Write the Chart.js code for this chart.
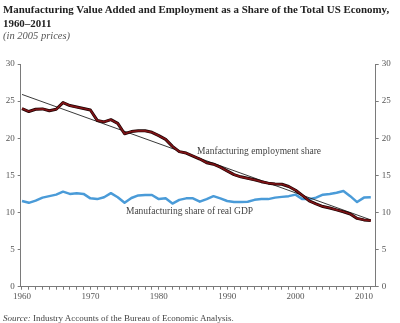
<!DOCTYPE html>
<html><head><meta charset="utf-8">
<script src="https://cdn.jsdelivr.net/npm/chart.js@4"></script>
<style>
html,body{margin:0;padding:0;background:#fff;}
#wrap{position:relative;width:400px;height:323px;overflow:hidden;font-family:"Liberation Serif","Times New Roman",serif;}
#title{position:absolute;left:3px;top:3px;font-weight:bold;font-size:10.9px;line-height:13.5px;color:#222;white-space:nowrap;}
#sub{position:absolute;left:3px;top:29.5px;font-style:italic;font-size:10.5px;line-height:12px;color:#555;white-space:nowrap;}
#src{position:absolute;left:3px;top:313px;font-size:9px;line-height:10px;color:#444;white-space:nowrap;}
canvas{position:absolute;left:0;top:0;}
</style></head>
<body><div id="wrap">
<canvas id="c" width="400" height="323"></canvas>
<div id="title">Manufacturing Value Added and Employment as a Share of the Total US Economy,<br>1960–2011</div>
<div id="sub">(in 2005 prices)</div>
<div id="src"><i>Source:</i> Industry Accounts of the Bureau of Economic Analysis.</div>
</div>
<script>
const years = [1960,1961,1962,1963,1964,1965,1966,1967,1968,1969,
  1970,1971,1972,1973,1974,1975,1976,1977,1978,1979,
  1980,1981,1982,1983,1984,1985,1986,1987,1988,1989,
  1990,1991,1992,1993,1994,1995,1996,1997,1998,1999,
  2000,2001,2002,2003,2004,2005,2006,2007,2008,2009,
  2010,2011];
const employmentShare = [24.0,23.6,23.9,23.95,23.7,23.9,24.8,24.4,24.2,24.0,
  23.8,22.4,22.2,22.5,22.0,20.6,20.9,21.0,21.0,20.8,
  20.35,19.85,18.9,18.2,18.0,17.6,17.2,16.7,16.5,16.1,
  15.6,15.1,14.8,14.6,14.4,14.15,13.95,13.85,13.8,13.5,
  13.0,12.3,11.55,11.15,10.8,10.6,10.35,10.1,9.8,9.2,
  9.0,8.9];
const gdpShare = [11.55,11.3,11.6,12.0,12.2,12.4,12.8,12.5,12.6,12.5,
  11.9,11.8,12.05,12.6,12.05,11.3,11.95,12.3,12.35,12.35,
  11.8,11.9,11.2,11.7,11.9,11.9,11.45,11.8,12.2,11.9,
  11.55,11.4,11.4,11.45,11.7,11.8,11.8,12.0,12.1,12.2,
  12.4,11.8,11.8,12.0,12.4,12.5,12.65,12.9,12.2,11.4,
  12.0,12.05];
const trendYears = [1960, 2011];
const trendValues = [25.9, 9.0];
const yTicks = [0,5,10,15,20,25,30];
const xLabelYears = [1960,1970,1980,1990,2000,2010];
const annotations = [
  {text:'Manfacturing employment share', year:1985.6, value:18.2},
  {text:'Manufacturing share of real GDP', year:1975.2, value:10.1}
];

const pts = (xs, ys) => xs.map((x,i)=>({x:x, y:ys[i]}));
const serif = '"Liberation Serif","Times New Roman",serif';
const axisColor = '#7a7a7a';

const labelPlugin = {
  id:'labels',
  afterDatasetsDraw(chart){
    const ctx = chart.ctx, xs = chart.scales.x, ys = chart.scales.y;
    ctx.save();
    ctx.font = '9.5px ' + serif;
    ctx.fillStyle = '#444';
    ctx.textBaseline = 'middle';
    ctx.textAlign = 'left';
    annotations.forEach(a=>{
      ctx.fillText(a.text, xs.getPixelForValue(a.year), ys.getPixelForValue(a.value));
    });
    ctx.restore();
  }
};

const yAxisCommon = {
  min:0, max:30,
  afterBuildTicks(s){ s.ticks = yTicks.map(v=>({value:v})); },
  ticks:{font:{family:serif,size:9}, color:'#555', padding:3},
  grid:{display:true, drawOnChartArea:false, drawTicks:true, tickLength:3, color:axisColor},
  border:{display:true, color:axisColor, width:1}
};

new Chart(document.getElementById('c'), {
  type:'line',
  data:{datasets:[
    {label:'Trend', data:pts(trendYears, trendValues), borderColor:'#222', borderWidth:0.9, pointRadius:0, order:3},
    {label:'Manufacturing share of real GDP', data:pts(years, gdpShare), borderColor:'#4a9bd8', borderWidth:2.5, pointRadius:0, borderJoinStyle:'round', order:4},
    {label:'Employment outline', data:pts(years, employmentShare), borderColor:'#1a0303', borderWidth:3.0, pointRadius:0, borderJoinStyle:'round', order:2},
    {label:'Manufacturing employment share', data:pts(years, employmentShare), borderColor:'#7f1316', borderWidth:1.7, pointRadius:0, borderJoinStyle:'round', order:1}
  ]},
  options:{
    responsive:false, animation:false, devicePixelRatio:1,
    layout:{padding:{top:64,left:0,right:0,bottom:0}},
    plugins:{legend:{display:false}, tooltip:{enabled:false}, title:{display:false}},
    scales:{
      x:{type:'linear', min:1959.81, max:2011.72,
        afterFit(s){ s.height = 36.3; },
        ticks:{stepSize:1, autoSkip:false, maxRotation:0, includeBounds:false, padding:2,
          font:{family:serif,size:9}, color:'#555',
          callback:(v)=> xLabelYears.includes(v) ? String(v) : ''},
        grid:{display:true, drawOnChartArea:false, drawTicks:true, tickLength:3, color:axisColor},
        border:{display:true, color:axisColor, width:1}
      },
      y:Object.assign({position:'left', afterFit(s){ s.width = 20.7; }}, yAxisCommon),
      y2:Object.assign({position:'right', afterFit(s){ s.width = 24.3; }}, yAxisCommon)
    }
  },
  plugins:[labelPlugin]
});
</script>
</body></html>
